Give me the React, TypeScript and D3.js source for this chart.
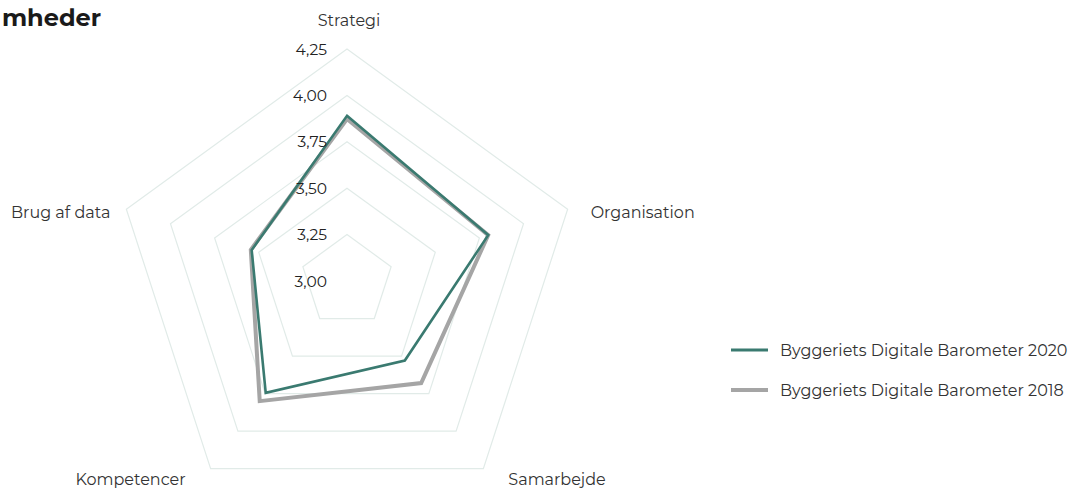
import React from "react";
import * as d3 from "d3";

const categories = ["Strategi", "Organisation", "Samarbejde", "Kompetencer", "Brug af data"];
const values2020 = [3.89, 3.8, 3.53, 3.745, 3.54];
const values2018 = [3.873, 3.8, 3.68, 3.8, 3.545];
const ticks = [3.0, 3.25, 3.5, 3.75, 4.0, 4.25];
const tickLabels = ["3,00", "3,25", "3,50", "3,75", "4,00", "4,25"];
const seriesNames = ["Byggeriets Digitale Barometer 2020", "Byggeriets Digitale Barometer 2018"];
const titleText = "mheder";

const W = 1077;
const H = 489;
const cx = 347;
const cy = 281;
const R = 232;
const FONT = "Montserrat, 'Open Sans', sans-serif";

export default function App() {
  const r = d3.scaleLinear().domain([3, 4.25]).range([0, R]);
  const n = categories.length;
  const ang = (i: number) => (i * 2 * Math.PI) / n;
  const pt = (i: number, rad: number): [number, number] => [
    cx + Math.sin(ang(i)) * rad,
    cy - Math.cos(ang(i)) * rad,
  ];
  const radial = d3
    .lineRadial<number>()
    .angle((_, i) => ang(i))
    .radius((d) => r(d))
    .curve(d3.curveLinearClosed);

  const ringPath = (v: number) =>
    d3.line().curve(d3.curveLinearClosed)(categories.map((_, i) => pt(i, r(v))))!;

  const labelPos = categories.map((_, i) => {
    const [x, y] = pt(i, R);
    const s = Math.sin(ang(i));
    const c = Math.cos(ang(i));
    if (Math.abs(s) < 0.1) return { x: x + 2, y: y - 23, anchor: "middle" };
    if (c > 0) return { x: s > 0 ? x + 23 : x - 16, y: y + 9, anchor: s > 0 ? "start" : "end" };
    return { x: s > 0 ? x + 25 : x - 25, y: y + 16, anchor: s > 0 ? "start" : "end" };
  });

  const series = [
    { name: seriesNames[1], values: values2018, color: "#a5a5a5", width: 4 },
    { name: seriesNames[0], values: values2020, color: "#3a7a70", width: 2.6 },
  ];
  const legend = [
    { name: seriesNames[0], color: "#3a7a70", width: 3 },
    { name: seriesNames[1], color: "#a5a5a5", width: 4 },
  ];

  return (
    <svg
      width={W}
      height={H}
      style={{ position: "absolute", left: 0, top: 0, background: "#fff" }}
      fontFamily={FONT}
    >
      <text x={101} y={26} textAnchor="end" fontSize={24} fontWeight={700} fill="#1a1a1a">
        {titleText}
      </text>
      {ticks.map((t) => (
        <path key={t} d={ringPath(t)} fill="none" stroke="#e1ebe8" strokeWidth={1.2} />
      ))}
      {series.map((s) => (
        <path
          key={s.name}
          d={radial(s.values)!}
          transform={`translate(${cx},${cy})`}
          fill="none"
          stroke={s.color}
          strokeWidth={s.width}
          strokeLinejoin="miter"
        />
      ))}
      {ticks.map((t, i) => (
        <text
          key={t}
          x={cx - 20}
          y={cy - r(t) + 5.5}
          textAnchor="end"
          fontSize={15.5}
          fill="#222"
        >
          {tickLabels[i]}
        </text>
      ))}
      {categories.map((c, i) => (
        <text
          key={c}
          x={labelPos[i].x}
          y={labelPos[i].y}
          textAnchor={labelPos[i].anchor as any}
          fontSize={16}
          fill="#333"
        >
          {c}
        </text>
      ))}
      {legend.map((l, i) => (
        <g key={l.name} transform={`translate(731,${350 + i * 40})`}>
          <line x1={0} x2={37} y1={0} y2={0} stroke={l.color} strokeWidth={l.width} />
          <text x={49} y={5.5} fontSize={16} fill="#333">
            {l.name}
          </text>
        </g>
      ))}
    </svg>
  );
}
